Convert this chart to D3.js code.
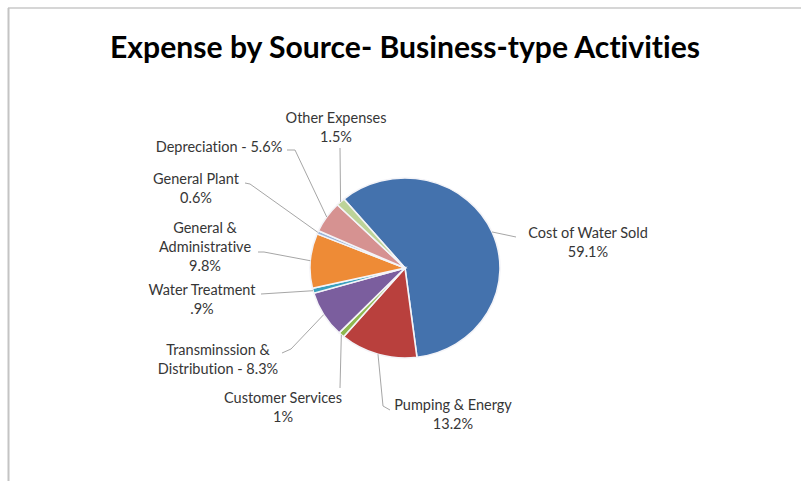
<!DOCTYPE html>
<html>
<head>
<meta charset="utf-8">
<script src="https://cdn.jsdelivr.net/npm/d3@7/dist/d3.min.js"></script>
<style>
  body { margin: 0; background: #fff; }
  text { font-family: Lato, "Open Sans", sans-serif; font-variant-ligatures: none; }
</style>
</head>
<body>
<div id="chart"></div>
<script>
// data
var categories = ["Cost of Water Sold", "Pumping & Energy", "Customer Services",
  "Transminssion & Distribution", "Water Treatment", "General & Administrative",
  "General Plant", "Depreciation", "Other Expenses"];
var values = [59.1, 13.2, 1, 8.3, 0.9, 9.8, 0.6, 5.6, 1.5];
var labelLines = [
  ["Cost of Water Sold", "59.1%"],
  ["Pumping & Energy", "13.2%"],
  ["Customer Services", "1%"],
  ["Transminssion &", "Distribution - 8.3%"],
  ["Water Treatment", ".9%"],
  ["General &", "Administrative", "9.8%"],
  ["General Plant", "0.6%"],
  ["Depreciation - 5.6%"],
  ["Other Expenses", "1.5%"]
];
var colors = ["#4472ad", "#b9403d", "#8fb84e", "#7b5e9e", "#3aa0bd",
  "#ee8b36", "#9ab4d8", "#d69291", "#bdd398"];

// layout of the hand-placed labels (centre x, first baseline y) and leader bends
var labelPos = [[588, 238], [453, 410], [283, 403], [218, 355], [202, 295],
  [205, 233], [196, 184], [219, 152], [336, 123]];
var leaderBends = [
  [[516, 237]],
  [[383, 406], [390, 410]],
  [[340, 388]],
  [[291, 349], [282, 353]],
  [[261, 294]],
  [[264, 252], [258, 252]],
  [[250, 184], [245, 183]],
  [[295, 150], [287, 150]],
  [[340, 148]]
];

createChart();

function createChart() {
  var width = 801;
  var height = 481;
  var cx = 405, cy = 268, rx = 95, ry = 90;

  var svg = d3.select("#chart").append("svg")
    .attr("width", width)
    .attr("height", height);

  // frame
  svg.append("line")
    .attr("x1", 8).attr("y1", 8).attr("x2", width).attr("y2", 8)
    .attr("stroke", "#c9c9c9").attr("stroke-width", 1.5);
  svg.append("line")
    .attr("x1", 8.5).attr("y1", 8).attr("x2", 8.5).attr("y2", height)
    .attr("stroke", "#c4c4c4").attr("stroke-width", 2);

  svg.append("text")
    .attr("x", 405)
    .attr("y", 58)
    .attr("text-anchor", "middle")
    .attr("font-size", 30)
    .attr("font-weight", "bold")
    .attr("fill", "#000")
    .attr("textLength", 590)
    .attr("lengthAdjust", "spacingAndGlyphs")
    .text("Expense by Source- Business-type Activities");

  var start = -40 * Math.PI / 180;
  var pie = d3.pie().sort(null).startAngle(start).endAngle(start + 2 * Math.PI);
  var arcs = pie(values);
  var arc = d3.arc().innerRadius(0).outerRadius(rx);

  var g = svg.append("g")
    .attr("transform", "translate(" + cx + "," + cy + ") scale(1," + (ry / rx) + ")");

  g.selectAll("path.slice")
    .data(arcs)
    .enter().append("path")
    .attr("class", "slice")
    .attr("d", arc)
    .attr("fill", function(d, i) { return colors[i]; })
    .attr("stroke", "#f4f4f8")
    .attr("stroke-width", 1.6);

  // leader lines
  var line = d3.line();
  arcs.forEach(function(d, i) {
    var mid = (d.startAngle + d.endAngle) / 2;
    var p0 = [cx + rx * Math.sin(mid), cy - ry * Math.cos(mid)];
    var pts = [p0].concat(leaderBends[i]);
    svg.append("path")
      .attr("d", line(pts))
      .attr("fill", "none")
      .attr("stroke", "#a6a6a6")
      .attr("stroke-width", 1);
  });

  // labels
  labelLines.forEach(function(lines, i) {
    var t = svg.append("text")
      .attr("text-anchor", "middle")
      .attr("font-size", 14.5)
      .attr("fill", "#363636");
    lines.forEach(function(s, j) {
      t.append("tspan")
        .attr("x", labelPos[i][0])
        .attr("y", labelPos[i][1] + j * 19)
        .text(s);
    });
  });
}
</script>
</body>
</html>
